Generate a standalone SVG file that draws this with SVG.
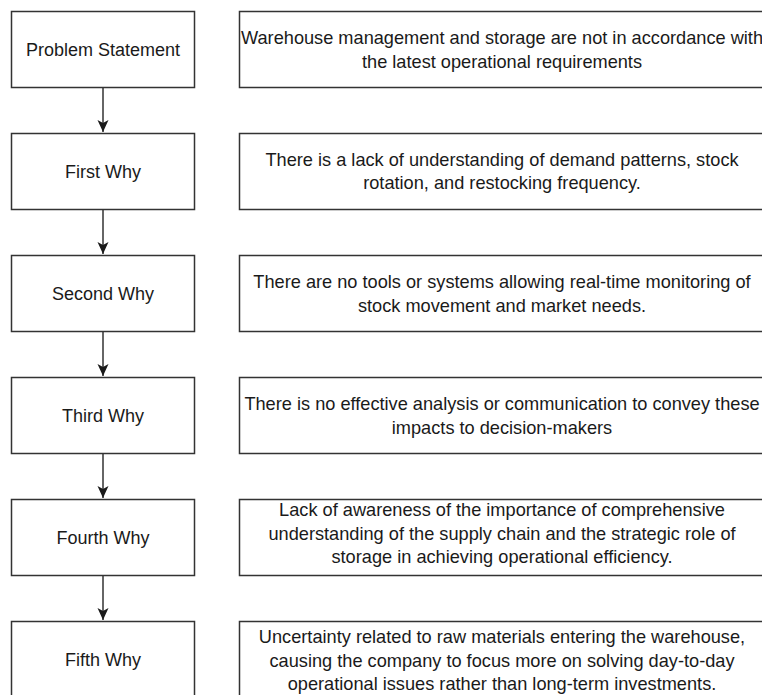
<svg xmlns="http://www.w3.org/2000/svg" width="762" height="695" viewBox="0 0 762 695">
<style>
  .box { fill: #ffffff; stroke: #333333; stroke-width: 1.5; }
  .lbl { font-family: "Liberation Sans", Arial, Helvetica, sans-serif; font-size: 18px; fill: #1a1a1a; text-anchor: middle; }
  .desc { font-size: 18.2px; }
  .conn { stroke: #333333; stroke-width: 1.5; fill: none; }
</style>
<defs>
  <marker id="arr" viewBox="0 0 12 12" markerWidth="12" markerHeight="12" refX="12" refY="6" orient="auto" markerUnits="userSpaceOnUse">
    <path d="M0,0.5 L12,6 L0,11.5 L3,6 Z" fill="#1a1a1a"/>
  </marker>
</defs>
<rect width="762" height="695" fill="#ffffff"/>

<g id="connectors">
  <line class="conn" x1="103" y1="88" x2="103" y2="132" marker-end="url(#arr)"/>
  <line class="conn" x1="103" y1="210" x2="103" y2="254" marker-end="url(#arr)"/>
  <line class="conn" x1="103" y1="332" x2="103" y2="376" marker-end="url(#arr)"/>
  <line class="conn" x1="103" y1="454" x2="103" y2="498" marker-end="url(#arr)"/>
  <line class="conn" x1="103" y1="576" x2="103" y2="620" marker-end="url(#arr)"/>
</g>

<g id="problem-statement">
  <rect class="box" x="11.5" y="11.5" width="183" height="76"/>
  <text class="lbl" x="103" y="56">Problem Statement</text>
</g>
<g id="problem-desc">
  <rect class="box" x="239.5" y="11.5" width="530" height="76"/>
  <text class="lbl desc" x="502" y="44">Warehouse management and storage are not in accordance with</text>
  <text class="lbl desc" x="502" y="67.5">the latest operational requirements</text>
</g>

<g id="first-why">
  <rect class="box" x="11.5" y="133.5" width="183" height="76"/>
  <text class="lbl" x="103" y="177.5">First Why</text>
</g>
<g id="first-desc">
  <rect class="box" x="239.5" y="133.5" width="530" height="76"/>
  <text class="lbl desc" x="502" y="165.5">There is a lack of understanding of demand patterns, stock</text>
  <text class="lbl desc" x="502" y="189">rotation, and restocking frequency.</text>
</g>

<g id="second-why">
  <rect class="box" x="11.5" y="255.5" width="183" height="76"/>
  <text class="lbl" x="103" y="300">Second Why</text>
</g>
<g id="second-desc">
  <rect class="box" x="239.5" y="255.5" width="530" height="76"/>
  <text class="lbl desc" x="502" y="288">There are no tools or systems allowing real-time monitoring of</text>
  <text class="lbl desc" x="502" y="311.5">stock movement and market needs.</text>
</g>

<g id="third-why">
  <rect class="box" x="11.5" y="377.5" width="183" height="76"/>
  <text class="lbl" x="103" y="422">Third Why</text>
</g>
<g id="third-desc">
  <rect class="box" x="239.5" y="377.5" width="530" height="76"/>
  <text class="lbl desc" x="502" y="410">There is no effective analysis or communication to convey these</text>
  <text class="lbl desc" x="502" y="433.5">impacts to decision-makers</text>
</g>

<g id="fourth-why">
  <rect class="box" x="11.5" y="499.5" width="183" height="76"/>
  <text class="lbl" x="103" y="544">Fourth Why</text>
</g>
<g id="fourth-desc">
  <rect class="box" x="239.5" y="499.5" width="530" height="76"/>
  <text class="lbl desc" x="502" y="516">Lack of awareness of the importance of comprehensive</text>
  <text class="lbl desc" x="502" y="539.5">understanding of the supply chain and the strategic role of</text>
  <text class="lbl desc" x="502" y="563">storage in achieving operational efficiency.</text>
</g>

<g id="fifth-why">
  <rect class="box" x="11.5" y="621.5" width="183" height="80"/>
  <text class="lbl" x="103" y="666">Fifth Why</text>
</g>
<g id="fifth-desc">
  <rect class="box" x="239.5" y="621.5" width="530" height="80"/>
  <text class="lbl desc" x="502" y="643">Uncertainty related to raw materials entering the warehouse,</text>
  <text class="lbl desc" x="502" y="666.5">causing the company to focus more on solving day-to-day</text>
  <text class="lbl desc" x="502" y="690">operational issues rather than long-term investments.</text>
</g>
</svg>
